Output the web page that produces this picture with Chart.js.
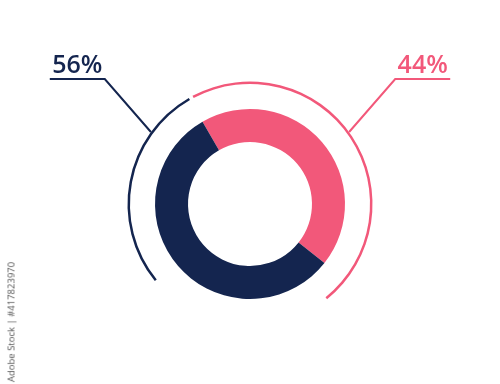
<!DOCTYPE html>
<html>
<head>
<meta charset="utf-8">
<script src="https://cdn.jsdelivr.net/npm/chart.js@4.4.1/dist/chart.umd.min.js"></script>
<style>
  html, body { margin: 0; padding: 0; background: #fff; }
  #wrap { position: relative; width: 500px; height: 384px; }
  #stock {
    position: absolute; left: 11px; top: 322px;
    transform: translate(-50%, -50%) rotate(-90deg);
    font: 9.5px "Open Sans", sans-serif; color: #555; white-space: nowrap;
  }
</style>
</head>
<body>
<div id="wrap">
  <canvas id="pie" width="500" height="384"></canvas>
  <div id="stock">Adobe Stock | #417823970</div>
</div>
<script>
// main ring: share in percent (pink first, then navy)
const labels = ['44%', '56%'];
const shares = [44, 56];
const colors = ['#f2587a', '#14254f'];

// thin outer arcs, in degrees, starting at the same rotation as the ring
const arcSpans = [2, 169, 90, 99];
const arcColors = ['transparent', '#f2587a', 'transparent', '#14254f'];

// where each leader line leaves the thin arc (degrees clockwise from top)
const leaderAngles = [54, -54];

const ctx = document.getElementById('pie').getContext('2d');

const leaders = {
    id: 'leaders',
    afterDatasetsDraw(chart) {
        const arc = chart.getDatasetMeta(0).data[1];
        const c = chart.ctx;
        const r = arc.outerRadius;
        c.save();
        labels.forEach((text, i) => {
            const a = (leaderAngles[i] - 90) * Math.PI / 180;
            const x0 = arc.x + Math.cos(a) * r;
            const y0 = arc.y + Math.sin(a) * r;
            const side = Math.sign(leaderAngles[i]);
            const yLine = arc.y - 125;
            const x1 = x0 + side * (y0 - yLine) * 0.87;
            const x2 = x1 + side * 55;
            c.strokeStyle = colors[i];
            c.lineWidth = 2;
            c.beginPath();
            c.moveTo(x0, y0);
            c.lineTo(x1, yLine);
            c.lineTo(x2, yLine);
            c.stroke();
            c.fillStyle = colors[i];
            c.font = '600 25px "Open Sans"';
            c.textBaseline = 'alphabetic';
            c.textAlign = 'left';
            const w = c.measureText(text).width;
            const left = Math.min(x1, x2) + (55 - w) / 2;
            c.fillText(text, left, yLine - 6);
        });
        c.restore();
    }
};

new Chart(ctx, {
    type: 'doughnut',
    data: {
        labels: labels,
        datasets: [{
            data: arcSpans,
            backgroundColor: arcColors,
            borderWidth: 0,
            weight: 2.5
        }, {
            data: [1],
            backgroundColor: ['transparent'],
            borderWidth: 0,
            weight: 25
        }, {
            data: shares,
            backgroundColor: colors,
            borderWidth: 0,
            weight: 33
        }]
    },
    options: {
        responsive: false,
        animation: false,
        rotation: -30,
        cutout: '50.6%',
        layout: {
            padding: { top: 81.5, bottom: 57.5, left: 0, right: 0 }
        },
        plugins: {
            legend: { display: false },
            tooltip: { enabled: false }
        }
    },
    plugins: [leaders]
});
</script>
</body>
</html>
